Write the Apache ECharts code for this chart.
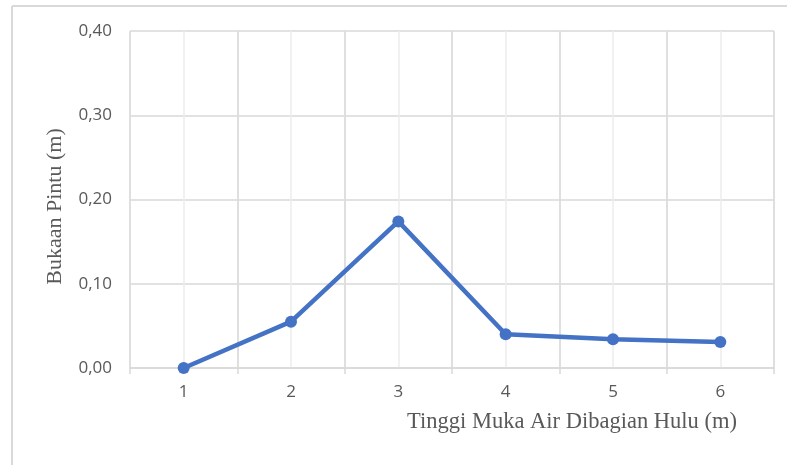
<!DOCTYPE html>
<html>
<head>
<meta charset="utf-8">
<script src="https://cdn.jsdelivr.net/npm/echarts@6/dist/echarts.min.js"></script>
<style>
  html, body { margin: 0; padding: 0; background: #ffffff; }
  #chart { width: 787px; height: 465px; }
</style>
</head>
<body>
<div id="chart"></div>
<script>
// Upstream water level (categories) vs. gate opening (m)
var categories = ['1', '2', '3', '4', '5', '6'];
var bukaanPintu = [0.000, 0.055, 0.174, 0.040, 0.034, 0.031];
var yTicks = [0, 0.1, 0.2, 0.3, 0.4];

var chart = echarts.init(document.getElementById('chart'));

var labelFont = '"Open Sans", "Liberation Sans", sans-serif';
var nameFont = '"Liberation Serif", "DejaVu Serif", serif';

chart.setOption({
  animation: false,
  backgroundColor: '#ffffff',
  graphic: [
    // chart area frame
    { type: 'line', shape: { x1: 12, y1: 6, x2: 787, y2: 6 }, style: { stroke: '#d9d9d9', lineWidth: 2 }, silent: true },
    { type: 'line', shape: { x1: 12, y1: 6, x2: 12, y2: 465 }, style: { stroke: '#d9d9d9', lineWidth: 2 }, silent: true }
  ],
  grid: { left: 130, right: 13, top: 31, bottom: 97, containLabel: false },
  xAxis: [
    {
      type: 'category',
      data: categories,
      boundaryGap: true,
      name: 'Tinggi Muka Air Dibagian Hulu (m)',
      nameLocation: 'middle',
      nameGap: 43,
      nameTextStyle: { fontFamily: nameFont, fontSize: 22.5, color: '#595959', padding: [0, 0, 0, 240] },
      axisLine: { show: true, lineStyle: { color: '#d9d9d9', width: 1.5 } },
      axisTick: { show: true, length: 6, lineStyle: { color: '#d9d9d9', width: 1.5 } },
      axisLabel: { fontFamily: labelFont, fontSize: 17, color: '#595959', margin: 16 },
      splitLine: { show: true, lineStyle: { color: '#d9d9d9', width: 1.5 } },
      z: 3
    },
    {
      // finer vertical guides through each category centre
      type: 'value',
      min: 0,
      max: 12,
      interval: 1,
      position: 'bottom',
      axisLine: { show: false },
      axisTick: { show: false },
      axisLabel: { show: false },
      splitLine: { show: true, lineStyle: { color: '#ececec', width: 1.5 } },
      z: 1
    }
  ],
  yAxis: {
    type: 'value',
    min: 0,
    max: 0.4,
    interval: 0.1,
    name: 'Bukaan Pintu (m)',
    nameLocation: 'middle',
    nameGap: 64,
    nameTextStyle: { fontFamily: nameFont, fontSize: 22, color: '#595959', padding: [0, 14, 0, 0] },
    axisLine: { show: false },
    axisTick: { show: false },
    axisLabel: {
      fontFamily: labelFont,
      fontSize: 17,
      color: '#595959',
      margin: 18,
      formatter: function (v) {
        for (var i = 0; i < yTicks.length; i++) {
          if (Math.abs(v - yTicks[i]) < 1e-9) return yTicks[i].toFixed(2).replace('.', ',');
        }
        return '';
      }
    },
    splitLine: { show: true, lineStyle: { color: '#d9d9d9', width: 1.5 } }
  },
  series: [
    {
      type: 'line',
      xAxisIndex: 0,
      data: bukaanPintu,
      symbol: 'circle',
      symbolSize: 12,
      lineStyle: { color: '#4472c4', width: 4.5 },
      itemStyle: { color: '#4472c4' },
      z: 5
    }
  ]
});
</script>
</body>
</html>
